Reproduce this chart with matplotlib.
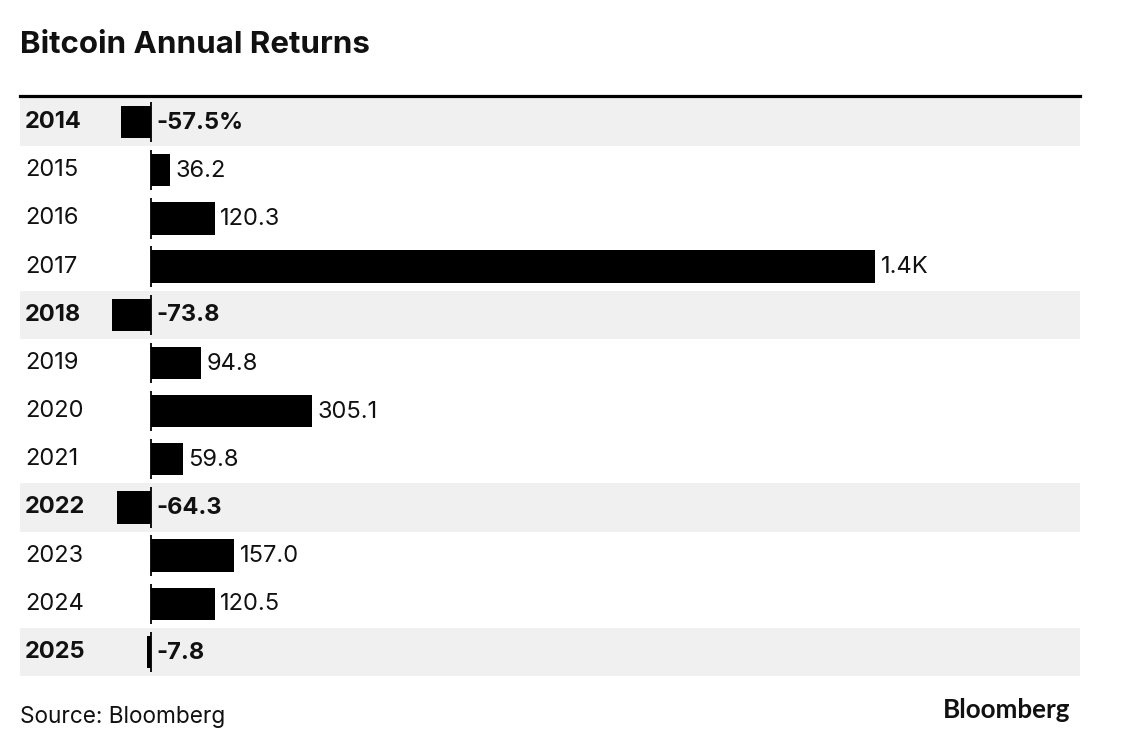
import matplotlib.pyplot as plt
from matplotlib.transforms import blended_transform_factory

years = ["2014", "2015", "2016", "2017", "2018", "2019", "2020",
         "2021", "2022", "2023", "2024", "2025"]
returns = [-57.5, 36.2, 120.3, 1369.0, -73.8, 94.8, 305.1,
           59.8, -64.3, 157.0, 120.5, -7.8]

plt.rcParams['font.family'] = ['Inter', 'DejaVu Sans']


def fmt(v, first):
    if abs(v) >= 1000:
        s = f"{v/1000:.1f}K"
    else:
        s = f"{v:.1f}"
    if first:
        s += "%"
    return s


fig = plt.figure(figsize=(11.24, 7.54), dpi=100)
ax = fig.add_axes([20/1124, 1 - 676/754, 1060/1124, 578/754])

ax.set_xlim(-247.7, 1756.6)
ax.set_ylim(len(years) - 0.5, -0.5)
ax.axis('off')

trans = blended_transform_factory(ax.transAxes, ax.transData)

for i, (yr, v) in enumerate(zip(years, returns)):
    neg = v < 0
    if neg:
        ax.axhspan(i - 0.5, i + 0.5, color='#f0f0f0', zorder=0, lw=0)
    ax.barh(i, v, height=0.67, color='black', zorder=2)
    ax.vlines(0, i - 0.42, i + 0.42, color='black', lw=1.3, zorder=3)
    weight = 'bold' if neg else 'normal'
    ax.text(5/1060, i, yr, transform=trans, ha='left', va='center',
            fontsize=17, fontweight=weight, color='#111111')
    xend = 0 if neg else v
    ax.annotate(fmt(v, i == 0), (xend, i), xytext=(4, -0.5),
                textcoords='offset points', ha='left', va='center',
                fontsize=17, fontweight=weight, color='#111111')

# top rule
fig.add_artist(plt.Line2D([20/1124, 1080/1124], [1 - 96/754, 1 - 96/754],
                          color='black', lw=2.3))

fig.text(20/1124, 1 - 53/754, "Bitcoin Annual Returns", fontsize=22.5,
         fontweight='bold', ha='left', va='baseline', color='#111111')
fig.text(20/1124, 1 - 723/754, "Source: Bloomberg", fontsize=16.3,
         ha='left', va='baseline', color='#111111')
fig.text(1070/1124, 1 - 718/754, "Bloomberg", fontsize=18.7,
         fontweight='bold', ha='right', va='baseline', color='#111111',
         family=['Lato', 'DejaVu Sans'])

fig.savefig("out.png", dpi=100)
